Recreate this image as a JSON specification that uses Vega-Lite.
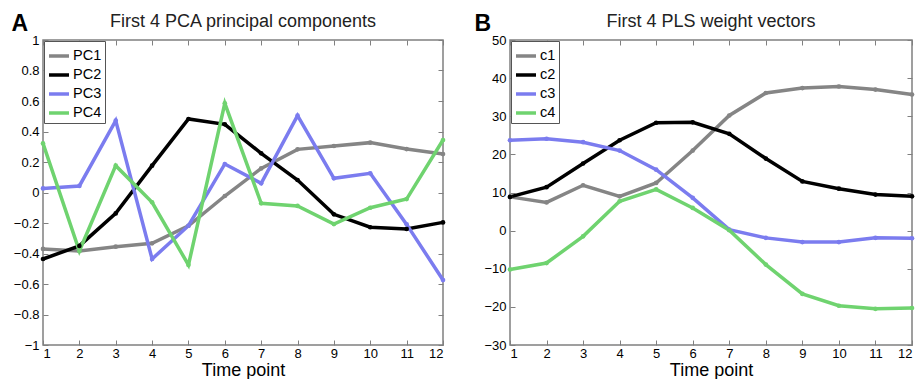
{
  "$schema": "https://vega.github.io/schema/vega-lite/v6.json",
  "autosize": {"type": "pad"},
  "padding": {"left": 10, "top": 11, "right": 0, "bottom": 0},
  "bounds": "flush",
  "spacing": 67,
  "background": "white",
  "config": {
    "font": "Liberation Sans",
    "view": {"stroke": "#808080", "strokeWidth": 1.5},
    "axis": {
      "grid": false,
      "domain": false,
      "tickColor": "#808080",
      "tickSize": -5,
      "labelColor": "black",
      "labelFontSize": 13,
      "labelFont": "Liberation Sans",
      "titleFont": "Liberation Sans",
      "titleColor": "black",
      "titleFontWeight": "normal"
    },
    "title": {"font": "Liberation Sans", "fontSize": 18, "fontWeight": "normal", "color": "#222"},
    "legend": {
      "orient": "top-left",
      "offset": 1,
      "strokeColor": "#555",
      "fillColor": "white",
      "padding": 3,
      "symbolType": "stroke",
      "symbolSize": 400,
      "symbolStrokeWidth": 3.5,
      "labelFontSize": 14.5,
      "labelFont": "Liberation Sans",
      "labelColor": "black",
      "rowPadding": -5,
      "labelOffset": 2
    }
  },
  "datasets": {
    "pca": [
      {"s": "PC1", "t": 1, "v": -0.37}, {"s": "PC1", "t": 2, "v": -0.384}, {"s": "PC1", "t": 3, "v": -0.355}, {"s": "PC1", "t": 4, "v": -0.333},
      {"s": "PC1", "t": 5, "v": -0.218}, {"s": "PC1", "t": 6, "v": -0.023}, {"s": "PC1", "t": 7, "v": 0.158}, {"s": "PC1", "t": 8, "v": 0.283},
      {"s": "PC1", "t": 9, "v": 0.305}, {"s": "PC1", "t": 10, "v": 0.327}, {"s": "PC1", "t": 11, "v": 0.285}, {"s": "PC1", "t": 12, "v": 0.252},
      {"s": "PC2", "t": 1, "v": -0.436}, {"s": "PC2", "t": 2, "v": -0.35}, {"s": "PC2", "t": 3, "v": -0.137}, {"s": "PC2", "t": 4, "v": 0.176},
      {"s": "PC2", "t": 5, "v": 0.482}, {"s": "PC2", "t": 6, "v": 0.447}, {"s": "PC2", "t": 7, "v": 0.257}, {"s": "PC2", "t": 8, "v": 0.082},
      {"s": "PC2", "t": 9, "v": -0.143}, {"s": "PC2", "t": 10, "v": -0.228}, {"s": "PC2", "t": 11, "v": -0.239}, {"s": "PC2", "t": 12, "v": -0.196},
      {"s": "PC3", "t": 1, "v": 0.027}, {"s": "PC3", "t": 2, "v": 0.043}, {"s": "PC3", "t": 3, "v": 0.471}, {"s": "PC3", "t": 4, "v": -0.436},
      {"s": "PC3", "t": 5, "v": -0.218}, {"s": "PC3", "t": 6, "v": 0.187}, {"s": "PC3", "t": 7, "v": 0.06}, {"s": "PC3", "t": 8, "v": 0.504},
      {"s": "PC3", "t": 9, "v": 0.093}, {"s": "PC3", "t": 10, "v": 0.126}, {"s": "PC3", "t": 11, "v": -0.209}, {"s": "PC3", "t": 12, "v": -0.574},
      {"s": "PC4", "t": 1, "v": 0.322}, {"s": "PC4", "t": 2, "v": -0.384}, {"s": "PC4", "t": 3, "v": 0.176}, {"s": "PC4", "t": 4, "v": -0.064},
      {"s": "PC4", "t": 5, "v": -0.475}, {"s": "PC4", "t": 6, "v": 0.585}, {"s": "PC4", "t": 7, "v": -0.071}, {"s": "PC4", "t": 8, "v": -0.088},
      {"s": "PC4", "t": 9, "v": -0.207}, {"s": "PC4", "t": 10, "v": -0.1}, {"s": "PC4", "t": 11, "v": -0.043}, {"s": "PC4", "t": 12, "v": 0.344}
    ],
    "pls": [
      {"s": "c1", "t": 1, "v": 8.85}, {"s": "c1", "t": 2, "v": 7.4}, {"s": "c1", "t": 3, "v": 11.9}, {"s": "c1", "t": 4, "v": 9.0},
      {"s": "c1", "t": 5, "v": 12.5}, {"s": "c1", "t": 6, "v": 21.0}, {"s": "c1", "t": 7, "v": 30.2}, {"s": "c1", "t": 8, "v": 36.1},
      {"s": "c1", "t": 9, "v": 37.4}, {"s": "c1", "t": 10, "v": 37.8}, {"s": "c1", "t": 11, "v": 37.0}, {"s": "c1", "t": 12, "v": 35.7},
      {"s": "c2", "t": 1, "v": 8.85}, {"s": "c2", "t": 2, "v": 11.4}, {"s": "c2", "t": 3, "v": 17.6}, {"s": "c2", "t": 4, "v": 23.7},
      {"s": "c2", "t": 5, "v": 28.3}, {"s": "c2", "t": 6, "v": 28.4}, {"s": "c2", "t": 7, "v": 25.4}, {"s": "c2", "t": 8, "v": 18.9},
      {"s": "c2", "t": 9, "v": 12.9}, {"s": "c2", "t": 10, "v": 11.0}, {"s": "c2", "t": 11, "v": 9.45}, {"s": "c2", "t": 12, "v": 9.0},
      {"s": "c3", "t": 1, "v": 23.7}, {"s": "c3", "t": 2, "v": 24.1}, {"s": "c3", "t": 3, "v": 23.2}, {"s": "c3", "t": 4, "v": 21.0},
      {"s": "c3", "t": 5, "v": 16.0}, {"s": "c3", "t": 6, "v": 8.6}, {"s": "c3", "t": 7, "v": 0.26}, {"s": "c3", "t": 8, "v": -1.9},
      {"s": "c3", "t": 9, "v": -3.0}, {"s": "c3", "t": 10, "v": -3.0}, {"s": "c3", "t": 11, "v": -1.9}, {"s": "c3", "t": 12, "v": -2.0},
      {"s": "c4", "t": 1, "v": -10.2}, {"s": "c4", "t": 2, "v": -8.5}, {"s": "c4", "t": 3, "v": -1.5}, {"s": "c4", "t": 4, "v": 7.7},
      {"s": "c4", "t": 5, "v": 10.8}, {"s": "c4", "t": 6, "v": 5.95}, {"s": "c4", "t": 7, "v": 0.1}, {"s": "c4", "t": 8, "v": -8.9},
      {"s": "c4", "t": 9, "v": -16.6}, {"s": "c4", "t": 10, "v": -19.7}, {"s": "c4", "t": 11, "v": -20.5}, {"s": "c4", "t": 12, "v": -20.3}
    ]
  },
  "hconcat": [
    {
      "width": 400,
      "height": 305,
      "title": {"text": "First 4 PCA principal components", "offset": -19},
      "data": {"name": "pca"},
      "layer": [
        {
          "mark": {"type": "line", "strokeWidth": 3.5, "point": {"size": 22, "filled": true}},
          "encoding": {
            "x": {"field": "t", "type": "quantitative", "scale": {"domain": [1, 12], "nice": false},
                  "axis": {"values": [1,2,3,4,5,6,7,8,9,10,11,12], "format": "d", "title": "Time point", "titleFontSize": 18, "titlePadding": 1, "labelPadding": 7}},
            "y": {"field": "v", "type": "quantitative", "scale": {"domain": [-1, 1], "nice": false},
                  "axis": {"values": [-1,-0.8,-0.6,-0.4,-0.2,0,0.2,0.4,0.6,0.8,1], "format": "~g", "title": "A", "titleAngle": 0, "titleFontSize": 23, "titleFontWeight": "bold", "titleAlign": "left", "titleBaseline": "alphabetic", "titleX": -32, "titleY": -10, "labelPadding": 9}},
            "color": {"field": "s", "type": "nominal", "title": null,
                      "scale": {"domain": ["PC1","PC2","PC3","PC4"], "range": ["#858585","#000000","#7b7cef","#6fd36f"]}}
          }
        },
        {
          "mark": {"type": "line", "opacity": 0},
          "encoding": {
            "x": {"field": "t", "type": "quantitative", "scale": {"domain": [1, 12], "nice": false},
                  "axis": {"orient": "top", "values": [1,2,3,4,5,6,7,8,9,10,11,12], "labels": false, "title": null}},
            "y": {"field": "v", "type": "quantitative", "scale": {"domain": [-1, 1], "nice": false},
                  "axis": {"orient": "right", "values": [-1,-0.8,-0.6,-0.4,-0.2,0,0.2,0.4,0.6,0.8,1], "labels": false, "title": null}}
          }
        }
      ],
      "resolve": {"axis": {"x": "independent", "y": "independent"}}
    },
    {
      "width": 402,
      "height": 305,
      "title": {"text": "First 4 PLS weight vectors", "offset": -19},
      "data": {"name": "pls"},
      "layer": [
        {
          "mark": {"type": "line", "strokeWidth": 3.5, "point": {"size": 22, "filled": true}},
          "encoding": {
            "x": {"field": "t", "type": "quantitative", "scale": {"domain": [1, 12], "nice": false},
                  "axis": {"values": [1,2,3,4,5,6,7,8,9,10,11,12], "format": "d", "title": "Time point", "titleFontSize": 18, "titlePadding": 1, "labelPadding": 7}},
            "y": {"field": "v", "type": "quantitative", "scale": {"domain": [-30, 50], "nice": false},
                  "axis": {"values": [-30,-20,-10,0,10,20,30,40,50], "format": "d", "title": "B", "titleAngle": 0, "titleFontSize": 23, "titleFontWeight": "bold", "titleAlign": "left", "titleBaseline": "alphabetic", "titleX": -36, "titleY": -10, "labelPadding": 9}},
            "color": {"field": "s", "type": "nominal", "title": null,
                      "scale": {"domain": ["c1","c2","c3","c4"], "range": ["#858585","#000000","#7b7cef","#6fd36f"]}}
          }
        },
        {
          "mark": {"type": "line", "opacity": 0},
          "encoding": {
            "x": {"field": "t", "type": "quantitative", "scale": {"domain": [1, 12], "nice": false},
                  "axis": {"orient": "top", "values": [1,2,3,4,5,6,7,8,9,10,11,12], "labels": false, "title": null}},
            "y": {"field": "v", "type": "quantitative", "scale": {"domain": [-30, 50], "nice": false},
                  "axis": {"orient": "right", "values": [-30,-20,-10,0,10,20,30,40,50], "labels": false, "title": null}}
          }
        }
      ],
      "resolve": {"axis": {"x": "independent", "y": "independent"}}
    }
  ],
  "resolve": {"scale": {"color": "independent"}, "legend": {"color": "independent"}}
}
